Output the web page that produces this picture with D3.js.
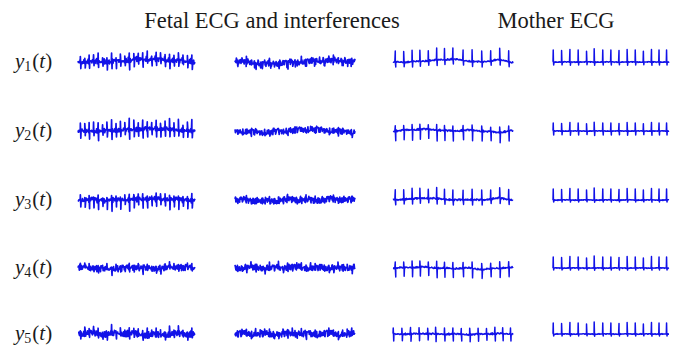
<!DOCTYPE html>
<meta charset="utf-8">
<script src="https://d3js.org/d3.v7.min.js"></script>
<style>
  body { margin: 0; background: #fff; }
  text { font-family: "Liberation Serif", "Times New Roman", "DejaVu Serif", serif; }
</style>
<div id="chart"></div>
<script>

    // titles and row labels
    const titles = ["Fetal ECG and interferences", "Mother ECG"];
    const rowLabels = ["1", "2", "3", "4", "5"];

    // beat instants (fraction of the panel width)
    const fetalBeats = [0.02, 0.058, 0.095, 0.133, 0.172, 0.21, 0.247, 0.287, 0.325, 0.362, 0.4, 0.438, 0.477,
                        0.515, 0.553, 0.592, 0.63, 0.668, 0.705, 0.744, 0.782, 0.82, 0.858, 0.897, 0.935, 0.973];
    const fetalAmp = [1, 0.8, 1.1, 0.9, 1.2, 0.7, 1, 1.3, 0.9, 1, 0.8, 1.4, 1.1, 0.9, 1.2, 1, 0.8, 1.1, 0.9, 1,
                      1.2, 0.9, 1.1, 0.8, 1, 1.2];
    const momBeatsA = [0.003, 0.075, 0.147, 0.218, 0.29, 0.356, 0.43, 0.5, 0.57, 0.64, 0.71, 0.78, 0.85, 0.915, 0.98];
    const momBeatsB = [0.02, 0.09, 0.16, 0.225, 0.295, 0.365, 0.43, 0.5, 0.585, 0.66, 0.74, 0.815, 0.89, 0.965];
    const momAmp = [1, 0.95, 1.05, 1, 0.9, 1.1, 1, 1, 0.95, 1.05, 1, 0.9, 1.05, 1, 1];

    // which mother beat list each panel uses (0 = A, 1 = B)
    const momSet = [[1, 1, 1, 0], [1, 1, 1, 0], [1, 1, 1, 0], [1, 1, 1, 0], [1, 1, 0, 0]];

    // spike sizes per panel [row][col]
    const fUp   = [[6, 2, 0, 0], [8, 1, 0, 0], [4, 2, 0, 0], [3, 3, 0, 0], [5, 3, 0, 0]];
    const fDown = [[6, 3, 0, 0], [7, 2, 0, 0], [8, 2, 0, 0], [3, 3, 0, 0], [3, 3, 0, 0]];
    const mUp   = [[3, 1, 11, 12], [2, 1, 5, 8], [1, 1, 10, 11], [1, 1, 6, 11], [2, 1, 6, 11]];
    const mDown = [[2, 5, 5, 3], [2, 3, 10, 4], [3, 3, 5, 2], [2, 2, 9, 2], [2, 2, 7, 2]];
    const noiseAmp = [[2.6, 4.2, 1.0, 0.5], [2.2, 4.2, 1.1, 0.5], [2.4, 4.2, 1.1, 0.5], [4.0, 4.4, 1.1, 0.5], [4.2, 4.6, 1.1, 0.5]];

    // baseline wander, 9 points across each panel (pixels, positive = up)
    const wander = [
        [[0, 0.5, 0, 1, 2.5, 3, 2, 1, 0], [1, 0, -2, -1, 0, 1, 1.5, 2, 0], [0, 0, 1, 2, 3, 1, 0, 2.5, -0.5], [0, 0, 0, 0, 0, 0, 0, 0, 0]],
        [[0, 0, 0.5, 1, 1.5, 2.5, 2, 1, 0], [0, -0.5, -1.5, 0, 1, 2, 1, 0, -1], [0, 1, 2, 1, 0, 1, 0, -1.5, 0.5], [0, 0, 0, 0, 0, 0, 0, 0, 0]],
        [[0, 0.5, 0, 0.5, 1, 1.5, 1, 0.5, 0], [0, 0, -1, 0, 1, 0, 0.5, 1, 0], [0, 1, 2, 1.5, 0, 0.5, 0, 2, 0], [0, 0, 0, 0, 0, 0, 0, 0, 0]],
        [[1, 0, -1, 0, 1, -0.5, 0.5, 1, 0], [0, 1, 0, 0.5, 1, 0, 0.5, 0, 1], [0, 0.5, 1, 0, -0.5, 0, -1.5, 0, 0.5], [0, 0, 0, 0, 0, 0, 0, 0, 0]],
        [[1, 1, 0, 1, 0, -1, 0, 0.5, 0], [0, 0.5, 0, 0, 1, 0, 0.5, 0, 0], [0, 0, 0.5, 0, 0, -0.5, 0, 0.5, 0], [0, 0, 0, 0, 0, 0, 0, 0, 0]]
    ];

    // hand-written jitter pattern used for the noisy trace texture
    const jitter = [0.3, -0.6, 0.8, -0.2, -0.9, 0.5, 0.1, -0.4, 0.9, -0.7, 0.2, 0.6, -0.3, -0.8, 0.4, 0.0, 0.7,
                    -0.5, -0.1, 0.9, -0.6, 0.3, -0.9, 0.5, 0.2, -0.3, 0.8, -0.7, 0.1, 0.4, -0.2, -0.5, 0.6, -0.8,
                    0.3, 0.9, -0.4, 0.0, -0.6, 0.7, -0.1, 0.5, -0.9, 0.2, 0.6, -0.3, -0.7];

    // layout
    const width = 684, height = 346;
    const colX = [[78, 195], [235, 355], [393, 513], [553, 669]];
    const rowY = [62, 131, 200, 268, 334];
    const N = 260;
    const blue = "#1212e8";

    const svg = d3.select("#chart")
        .append("svg")
            .attr("width", width)
            .attr("height", height);

    // titles
    svg.append("text").attr("x", 272).attr("y", 28).attr("text-anchor", "middle")
        .style("font-size", "22.5px").attr("fill", "#1a1a1a").text(titles[0]);
    svg.append("text").attr("x", 556).attr("y", 28).attr("text-anchor", "middle")
        .style("font-size", "22.5px").attr("fill", "#1a1a1a").text(titles[1]);

    // row labels y_i(t)
    rowLabels.forEach((lab, r) => {
        let t = svg.append("text")
            .attr("x", 15)
            .attr("y", rowY[r] + 6)
            .style("font-size", "21px")
            .attr("fill", "#1a1a1a");
        t.append("tspan").style("font-style", "italic").text("y");
        t.append("tspan").attr("dy", 3).style("font-size", "14px").text(lab);
        t.append("tspan").attr("dy", -3).attr("dx", 1).text("(");
        t.append("tspan").style("font-style", "italic").text("t");
        t.append("tspan").text(")");
    });

    const tDomain = d3.range(9).map(i => i / 8);

    rowY.forEach((cy, r) => {
        let y = d3.scaleLinear().domain([-20, 20]).range([cy + 20, cy - 20]);

        colX.forEach((cx, c) => {
            let x = d3.scaleLinear().domain([0, 1]).range(cx);
            let wand = d3.scaleLinear().domain(tDomain).range(wander[r][c]);
            let off = (r * 4 + c) * 7;
            let L = jitter.length;
            let nz = k => noiseAmp[r][c] * (jitter[(k * 3 + off) % L] + 0.5 * jitter[(k * 7 + off + 11) % L]) / 1.5;
            let base = k => wand(k / N) + nz(k);

            let pts = d3.range(N + 1).map(k => [k / N, base(k)]);

            // fetal spikes
            if (fUp[r][c] || fDown[r][c]) {
                fetalBeats.forEach((tb, i) => {
                    let b0 = base(Math.round(tb * N));
                    let a = fetalAmp[i];
                    pts.push([tb, b0 + fUp[r][c] * a], [tb + 0.004, b0 - fDown[r][c] * a]);
                });
            }

            // mother spikes
            let mb = momSet[r][c] === 0 ? momBeatsA : momBeatsB;
            mb.forEach((tb, i) => {
                let b0 = wand(tb);
                let a = momAmp[i];
                pts.push([tb - 0.001, b0 + mUp[r][c] * a], [tb + 0.003, b0 - mDown[r][c] * a]);
            });

            pts.sort((p, q) => p[0] - q[0]);

            let line = d3.line()
                .x(d => x(d[0]))
                .y(d => y(d[1]));

            svg.append("path")
                .datum(pts)
                .attr("d", line)
                .attr("fill", "none")
                .attr("stroke", blue)
                .attr("stroke-width", c >= 2 ? 1.5 : 1.7)
                .attr("stroke-linejoin", "round");
        });
    });

</script>
